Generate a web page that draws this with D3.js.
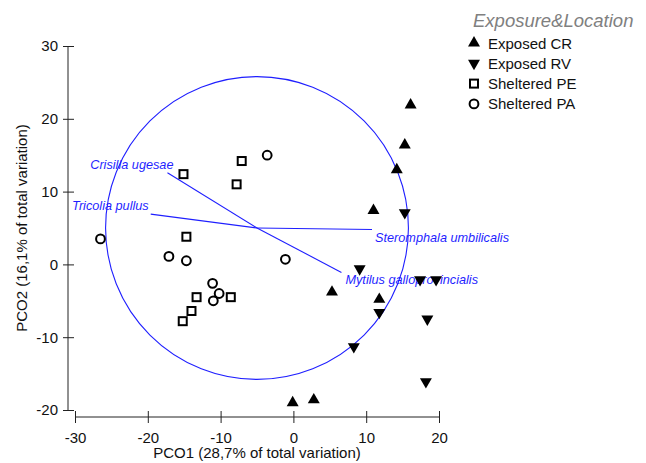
<!DOCTYPE html>
<html>
<head>
<meta charset="utf-8">
<script src="https://cdn.jsdelivr.net/npm/d3@7"></script>
<style>
  body { margin: 0; background: #fff; }
  text { font-family: Arial, "Liberation Sans", sans-serif; }
</style>
</head>
<body>
<div id="chart"></div>
<script>
// groups, in legend order
const groups = ["Exposed CR", "Exposed RV", "Sheltered PE", "Sheltered PA"];

// PCO scores, [PCO1, PCO2]
const exposedCR = [[16.1, 21.9], [15.3, 16.4], [14.2, 13.0], [11.0, 7.4], [5.3, -3.8], [11.8, -4.8], [-0.1, -19.0], [2.8, -18.6]];
const exposedRV = [[15.3, 7.1], [9.1, -0.6], [17.4, -2.1], [19.6, -2.1], [11.8, -6.6], [18.4, -7.5], [8.3, -11.3], [18.2, -16.1]];
const shelteredPE = [[-15.1, 12.4], [-7.1, 14.2], [-7.8, 11.0], [-14.7, 3.8], [-13.3, -4.5], [-8.6, -4.5], [-14.0, -6.4], [-15.2, -7.8]];
const shelteredPA = [[-3.6, 15.0], [-26.5, 3.5], [-17.1, 1.1], [-14.7, 0.5], [-1.1, 0.7], [-11.1, -2.6], [-10.2, -4.0], [-11.0, -5.0]];

// vector overlay (correlation circle + species vectors)
const circleCenter = [-5, 5];
const circleRadius = 20.8;
const species = ["Crisilla ugesae", "Tricolia pullus", "Steromphala umbilicalis", "Mytilus galloprovincialis"];
const vectorEnds = [[-17.3, 12.6], [-19.6, 6.9], [10.8, 4.8], [6.6, -1.1]];

const xTicks = [-30, -20, -10, 0, 10, 20];
const yTicks = [-20, -10, 0, 10, 20, 30];

const width = 646, height = 463;
const blue = "#1f1fff";

const svg = d3.select("#chart").append("svg").attr("width", width).attr("height", height);

const x = d3.scaleLinear().domain([-30, 20]).range([75, 439]);
const y = d3.scaleLinear().domain([-20, 30]).range([410, 46]);

// plain hyphen for negatives, like the original
const fmt = d => String(d);

// axes (detached from each other)
const xAxis = svg.append("g")
  .attr("transform", "translate(0,417)")
  .call(d3.axisBottom(x).tickValues(xTicks).tickFormat(fmt).tickSize(6).tickPadding(9));
xAxis.selectAll(".tick line").attr("y1", -6).attr("y2", 6);

const yAxis = svg.append("g")
  .attr("transform", "translate(68,0)")
  .call(d3.axisLeft(y).tickValues(yTicks).tickFormat(fmt).tickSize(5).tickPadding(5));
yAxis.selectAll(".tick line").attr("x1", -5).attr("x2", 6);

[xAxis, yAxis].forEach(a => {
  a.select(".domain").attr("stroke", "#222");
  a.selectAll(".tick line").attr("stroke", "#222");
  a.selectAll(".tick text").attr("font-size", 15).attr("fill", "#111").attr("font-family", "Arial, 'Liberation Sans', sans-serif");
});
// plain axis lines, no end caps
xAxis.select(".domain").attr("d", `M${x(-30)},0H${x(20)}`);
yAxis.select(".domain").attr("d", `M0,${y(-20)}V${y(30)}`);

svg.append("text")
  .attr("x", (x(-30) + x(20)) / 2).attr("y", 458)
  .attr("text-anchor", "middle").attr("font-size", 15).attr("fill", "#111")
  .text("PCO1 (28,7% of total variation)");

svg.append("text")
  .attr("transform", `translate(27,${(y(-20) + y(30)) / 2}) rotate(-90)`)
  .attr("text-anchor", "middle").attr("font-size", 15).attr("fill", "#111")
  .text("PCO2 (16,1% of total variation)");

// correlation circle
const cx = x(circleCenter[0]), cy = y(circleCenter[1]);
svg.append("circle")
  .attr("cx", cx).attr("cy", cy)
  .attr("r", x(circleCenter[0] + circleRadius) - cx)
  .attr("fill", "none").attr("stroke", blue).attr("stroke-width", 1.1);

// species vectors
svg.append("g").selectAll("line")
  .data(vectorEnds)
  .join("line")
  .attr("x1", cx).attr("y1", cy)
  .attr("x2", d => x(d[0])).attr("y2", d => y(d[1]))
  .attr("stroke", blue).attr("stroke-width", 1.1);

const labelOffsets = [[6, -4, "end"], [-2, -4, "end"], [3, 13, "start"], [4, 12, "start"]];
svg.append("g").selectAll("text")
  .data(vectorEnds)
  .join("text")
  .attr("x", (d, i) => x(d[0]) + labelOffsets[i][0])
  .attr("y", (d, i) => y(d[1]) + labelOffsets[i][1])
  .attr("text-anchor", (d, i) => labelOffsets[i][2])
  .attr("font-size", 12.7).attr("font-style", "italic").attr("fill", blue)
  .text((d, i) => species[i]);

// markers
const tri = d3.symbol().type(d3.symbolTriangle).size(62)();
function drawMarker(g, kind) {
  if (kind === 0) g.append("path").attr("d", tri).attr("fill", "#000");
  else if (kind === 1) g.append("path").attr("d", tri).attr("transform", "rotate(180)").attr("fill", "#000");
  else if (kind === 2) g.append("rect").attr("x", -4).attr("y", -4).attr("width", 8).attr("height", 8)
    .attr("fill", "#fff").attr("stroke", "#000").attr("stroke-width", 2);
  else g.append("circle").attr("r", 4.4).attr("fill", "#fff").attr("stroke", "#000").attr("stroke-width", 2);
}

const series = [exposedCR, exposedRV, shelteredPE, shelteredPA];
series.forEach((pts, k) => {
  svg.append("g").selectAll("g")
    .data(pts)
    .join("g")
    .attr("transform", d => `translate(${x(d[0])},${y(d[1])})`)
    .each(function () { drawMarker(d3.select(this), k); });
});

// legend
const legend = svg.append("g");
legend.append("text")
  .attr("x", 473).attr("y", 27)
  .attr("font-size", 18.5).attr("font-style", "italic").attr("fill", "#808080")
  .text("Exposure&Location");
groups.forEach((name, i) => {
  const row = legend.append("g").attr("transform", `translate(474,${43 + i * 20.3})`);
  drawMarker(row, i);
  row.append("text").attr("x", 14).attr("y", 5.5)
    .attr("font-size", 15).attr("fill", "#111").text(name);
});
</script>
</body>
</html>
